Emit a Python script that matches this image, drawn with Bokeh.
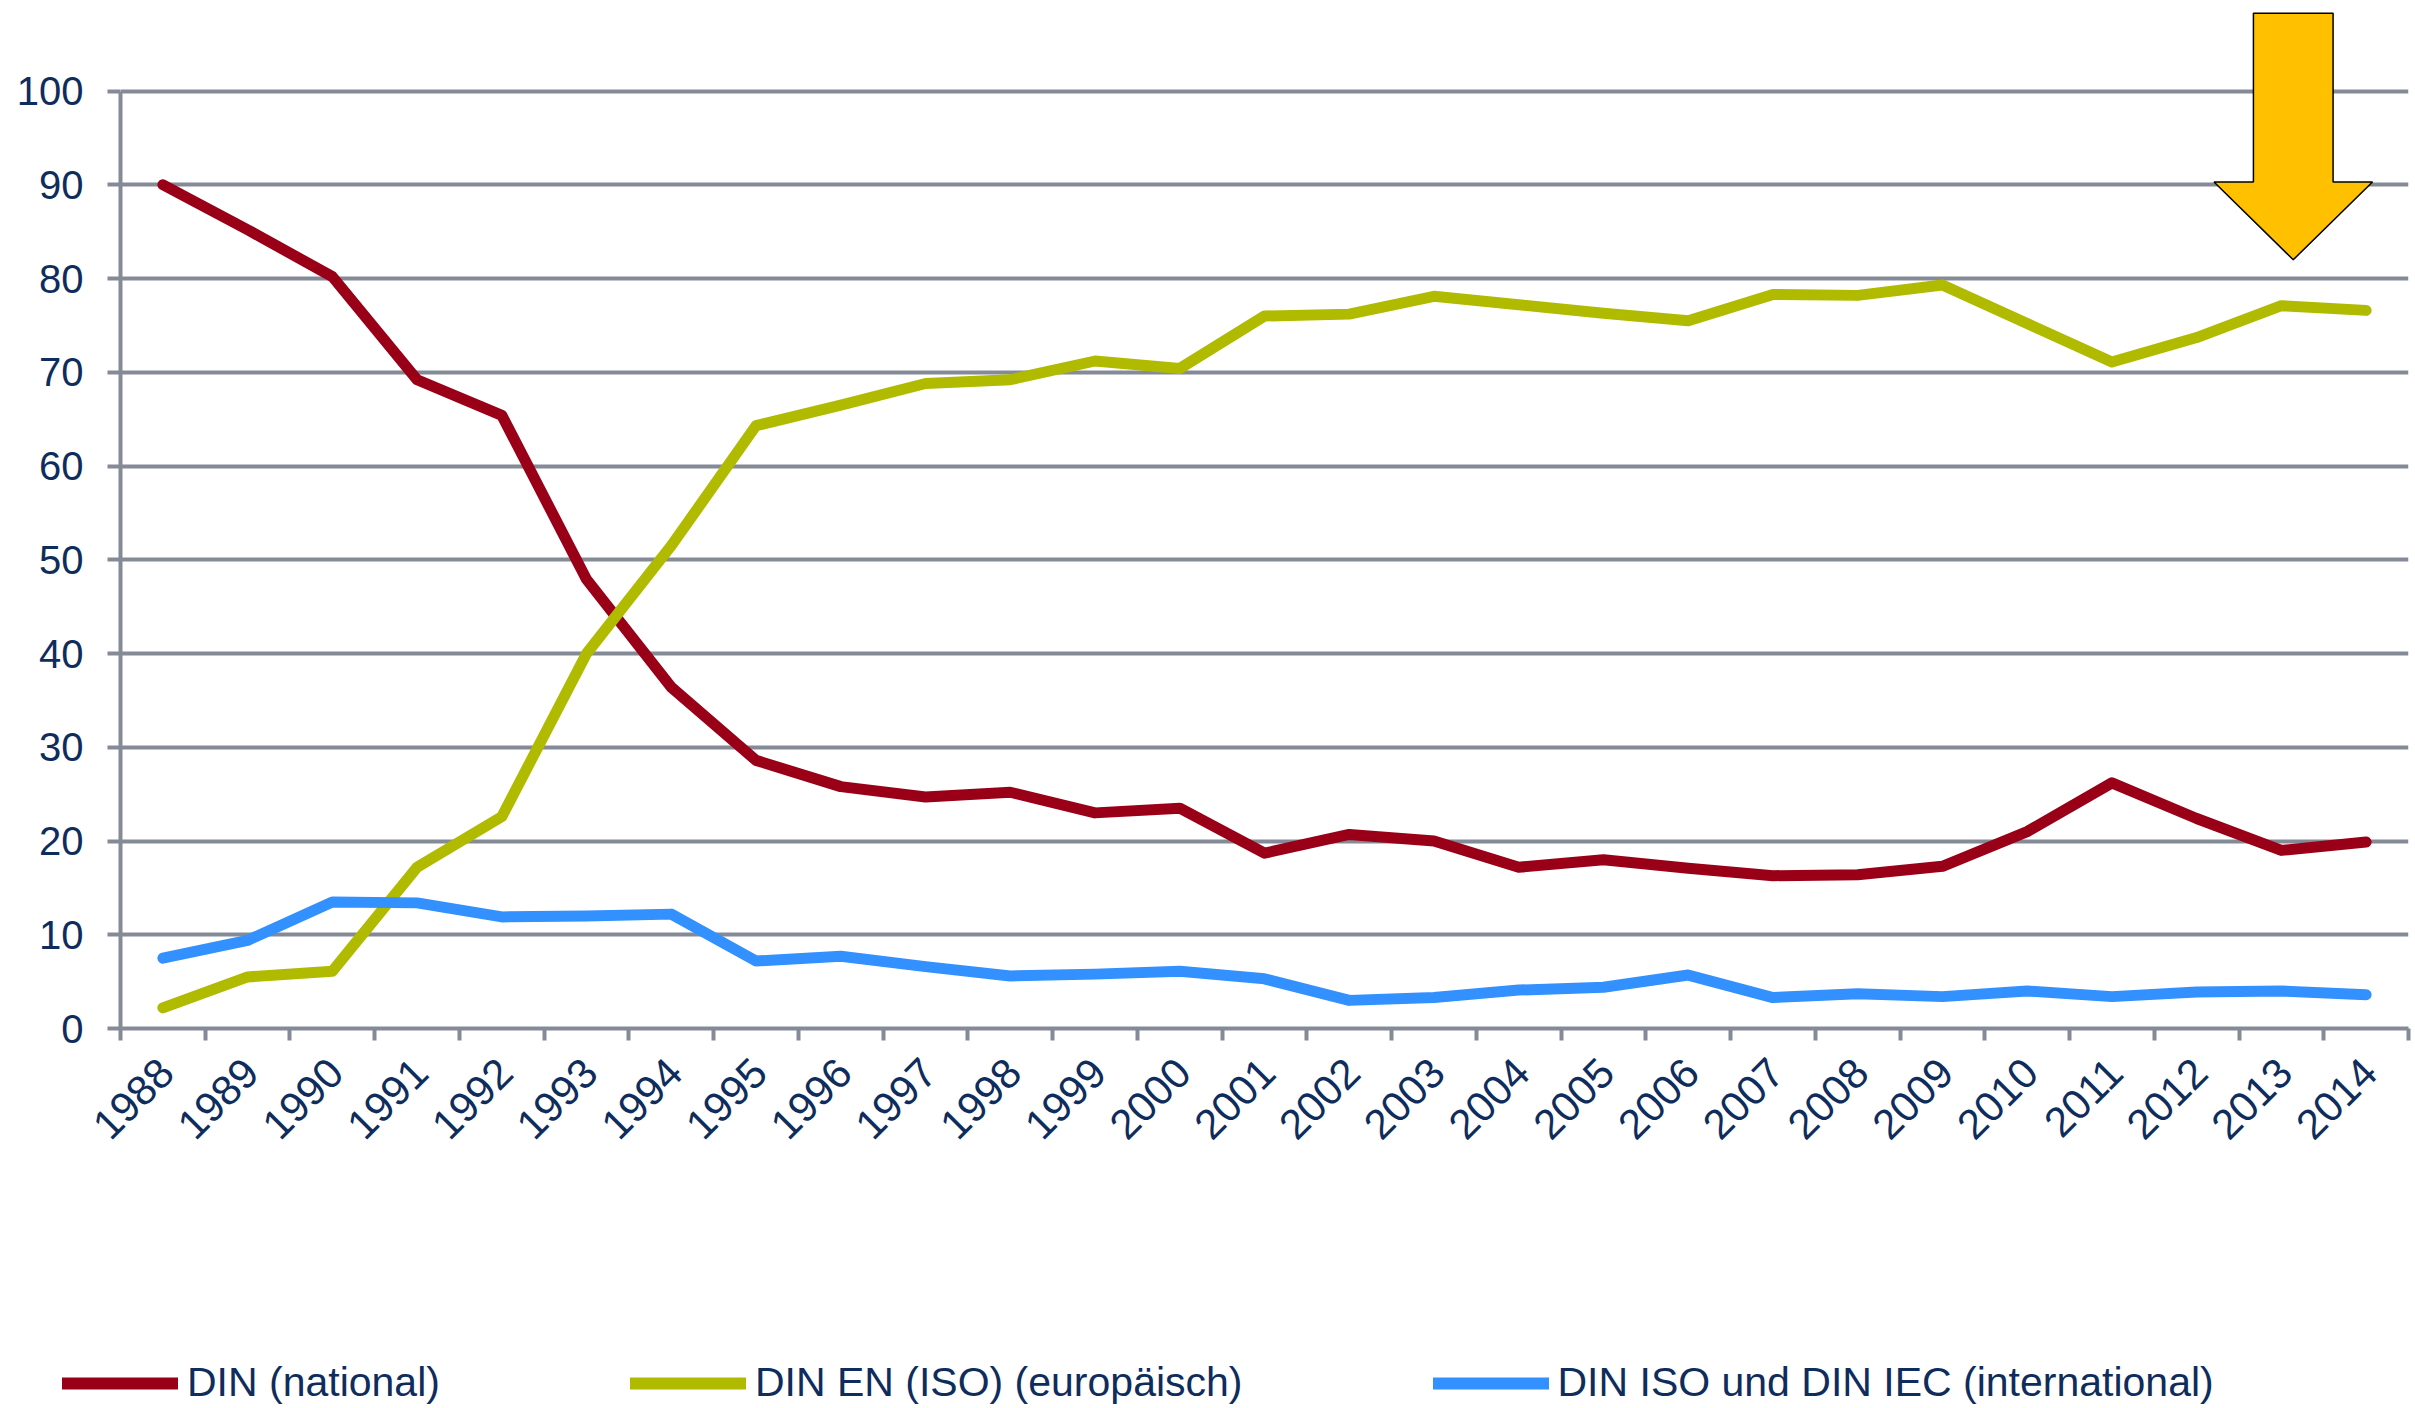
from bokeh.plotting import figure
from bokeh.models import FixedTicker, Legend, LegendItem, Range1d
from bokeh.layouts import column
from bokeh.embed import file_html
from bokeh.resources import INLINE
import math

# ---- data ----
years = list(range(1988, 2015))
din_national = [90.0, 85.2, 80.2, 69.2, 65.4, 47.9, 36.4, 28.6, 25.8, 24.7, 25.2, 23.0, 23.5,
                18.7, 20.7, 20.0, 17.2, 18.0, 17.1, 16.3, 16.4, 17.3, 21.0, 26.2, 22.4, 19.0, 19.9]
din_en_iso = [2.2, 5.5, 6.1, 17.2, 22.6, 40.0, 51.5, 64.3, 66.5, 68.8, 69.2, 71.2, 70.4,
              76.0, 76.2, 78.1, 77.2, 76.3, 75.5, 78.3, 78.2, 79.3, 75.2, 71.1, 73.7, 77.1, 76.6]
din_iso_iec = [7.5, 9.4, 13.5, 13.4, 11.9, 12.0, 12.2, 7.2, 7.7, 6.6, 5.6, 5.8, 6.1,
               5.3, 3.0, 3.3, 4.1, 4.4, 5.7, 3.3, 3.7, 3.4, 4.0, 3.4, 3.9, 4.0, 3.6]
series_names = ["DIN (national)", "DIN EN (ISO) (europäisch)", "DIN ISO und DIN IEC (international)"]
series_colors = ["#990018", "#b0bb00", "#3390ff"]
y_ticks = list(range(0, 101, 10))
arrow_year = 2013

GRID = "#858a97"
TEXT = "#0f2d5c"
FONT = "Liberation Sans"
W = 2411

n = len(years)
xc = [i + 0.5 for i in range(n)]
xlab = [i + 0.54 for i in range(n)]

p = figure(width=W, height=1294, output_backend="svg", toolbar_location=None,
           x_range=Range1d(0, n), y_range=Range1d(0, 108.8),
           min_border_left=120, min_border_right=3, min_border_top=8, min_border_bottom=266)
p.outline_line_color = None
p.background_fill_color = "white"
p.border_fill_color = "white"

# grid
p.xgrid.visible = False
p.ygrid.ticker = FixedTicker(ticks=y_ticks)
p.ygrid.grid_line_color = GRID
p.ygrid.grid_line_width = 4

# y axis
p.yaxis.ticker = FixedTicker(ticks=y_ticks)
p.yaxis.bounds = (0, 100)
p.yaxis.axis_line_color = GRID
p.yaxis.axis_line_width = 4
p.yaxis.major_tick_line_color = GRID
p.yaxis.major_tick_line_width = 4
p.yaxis.major_tick_out = 13
p.yaxis.major_tick_in = 0
p.yaxis.minor_tick_line_color = None
p.yaxis.major_label_standoff = 24
p.yaxis.major_label_text_font = FONT
p.yaxis.major_label_text_font_size = "40px"
p.yaxis.major_label_text_color = TEXT

# x axis: labels near centers, ticks between categories
p.xaxis.ticker = FixedTicker(ticks=xlab, minor_ticks=list(range(0, n + 1)))
p.xaxis.major_label_overrides = {x: str(y) for x, y in zip(xlab, years)}
p.xaxis.axis_line_color = GRID
p.xaxis.axis_line_width = 4
p.xaxis.major_tick_line_color = None
p.xaxis.major_tick_out = 0
p.xaxis.major_tick_in = 0
p.xaxis.minor_tick_line_color = GRID
p.xaxis.minor_tick_line_width = 4
p.xaxis.minor_tick_out = 12
p.xaxis.minor_tick_in = 0
p.xaxis.major_label_orientation = math.pi / 4
p.xaxis.major_label_standoff = 25
p.xaxis.major_label_text_font = FONT
p.xaxis.major_label_text_font_size = "42px"
p.xaxis.major_label_text_color = TEXT

# lines
for vals, col in zip([din_national, din_en_iso, din_iso_iec], series_colors):
    p.line(xc, vals, line_color=col, line_width=11, line_cap="round", line_join="round")

# arrow annotation above 2013
ai = years.index(arrow_year)
cx = ai + 0.64
sw, hw = 0.47, 0.935
ax = [cx - sw, cx + sw, cx + sw, cx + hw, cx, cx - hw, cx - sw]
ay = [108.3, 108.3, 90.3, 90.3, 82.0, 90.3, 90.3]
p.patch(ax, ay, fill_color="#ffc000", line_color="black", line_width=1.5)

# legend strip
q = figure(width=W, height=112, output_backend="svg", toolbar_location=None,
           x_range=Range1d(0, 1), y_range=Range1d(0, 1),
           min_border_left=0, min_border_right=0, min_border_top=0, min_border_bottom=0)
q.axis.visible = False
q.grid.visible = False
q.outline_line_color = None
frame_free = True
try:
    q.frame_align = False
    p.frame_align = False
except Exception:
    frame_free = False
dummies = [q.line([float("nan")], [float("nan")], line_color=col, line_width=12, line_cap="round")
           for col in series_colors]
legend = Legend(items=[LegendItem(label=nm, renderers=[r]) for nm, r in zip(series_names, dummies)],
                orientation="horizontal", location=(62 if frame_free else -58, 0),
                spacing=190, glyph_width=116, glyph_height=36, label_height=36,
                label_standoff=9, padding=0, margin=0,
                label_text_font=FONT, label_text_font_size="41px", label_text_color=TEXT,
                label_text_baseline="middle",
                background_fill_alpha=0, border_line_color=None)
q.add_layout(legend, "center")

layout = column(p, q, spacing=0)
open("out.html", "w").write(file_html(layout, INLINE))
